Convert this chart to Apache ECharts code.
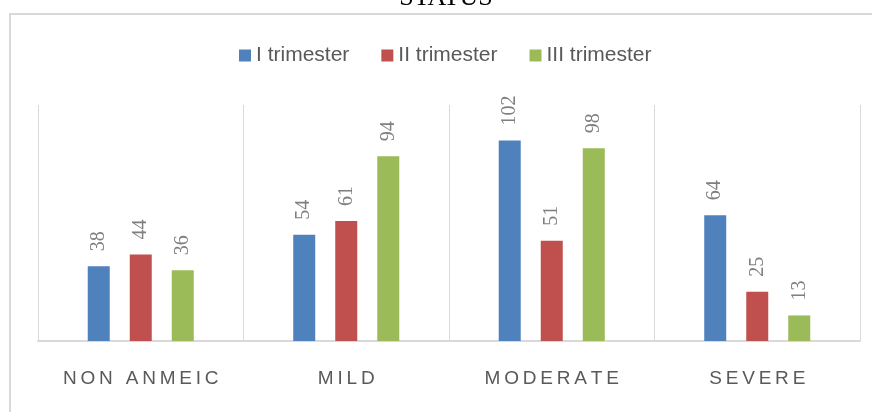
<!DOCTYPE html>
<html>
<head>
<meta charset="utf-8">
<script src="https://cdn.jsdelivr.net/npm/echarts@6/dist/echarts.min.js"></script>
<style>
  html, body { margin: 0; padding: 0; background: #fff; }
  #chart { width: 872px; height: 412px; }
</style>
</head>
<body>
<div id="chart"></div>
<script>
// Anaemia status by trimester
const categories = ['NON ANMEIC', 'MILD', 'MODERATE', 'SEVERE'];
const seriesNames = ['I trimester', 'II trimester', 'III trimester'];
const trimester1 = [38, 54, 102, 64];
const trimester2 = [44, 61, 51, 25];
const trimester3 = [36, 94, 98, 13];
const colors = ['#4F81BD', '#C0504D', '#9BBB59'];

const chart = echarts.init(document.getElementById('chart'));

const valueLabel = {
  show: true,
  position: 'top',
  rotate: 90,
  align: 'left',
  verticalAlign: 'middle',
  distance: 15,
  color: '#7f7f7f',
  fontFamily: 'Liberation Serif',
  fontSize: 20
};

function barSeries(name, data, color) {
  return {
    name: name,
    type: 'bar',
    data: data,
    barWidth: 22,
    barGap: '91%',
    itemStyle: { color: color },
    label: valueLabel
  };
}

chart.setOption({
  animation: false,
  graphic: [
    {
      type: 'rect',
      shape: { x: 10, y: 14, width: 880, height: 420 },
      style: { fill: 'none', stroke: '#d9d9d9', lineWidth: 2 },
      z: -1
    },
    {
      type: 'text',
      x: 446,
      y: 11,
      style: {
        text: 'STATUS',
        textAlign: 'center',
        textVerticalAlign: 'bottom',
        font: '26px "Liberation Serif"',
        fill: '#000'
      }
    }
  ],
  legend: {
    data: seriesNames,
    top: 40,
    left: 234,
    itemWidth: 12,
    itemHeight: 12,
    itemGap: 32,
    icon: 'rect',
    textStyle: {
      fontFamily: 'Liberation Sans',
      fontSize: 21,
      color: '#595959'
    }
  },
  grid: { left: 38, right: 12, top: 105, bottom: 71 },
  xAxis: {
    type: 'category',
    data: categories,
    axisLine: { lineStyle: { color: '#d9d9d9', width: 2 } },
    axisTick: { show: false },
    splitLine: { show: true, interval: 0, lineStyle: { color: '#d9d9d9', width: 1 } },
    axisLabel: {
      interval: 0,
      margin: 28,
      color: '#595959',
      fontFamily: 'Liberation Sans',
      fontSize: 19,
      formatter: function (v) { return v.split('').join('\u2009'); }
    }
  },
  yAxis: {
    type: 'value',
    min: 0,
    max: 120,
    show: false,
    splitLine: { show: false }
  },
  series: [
    barSeries(seriesNames[0], trimester1, colors[0]),
    barSeries(seriesNames[1], trimester2, colors[1]),
    barSeries(seriesNames[2], trimester3, colors[2])
  ]
});
</script>
</body>
</html>
